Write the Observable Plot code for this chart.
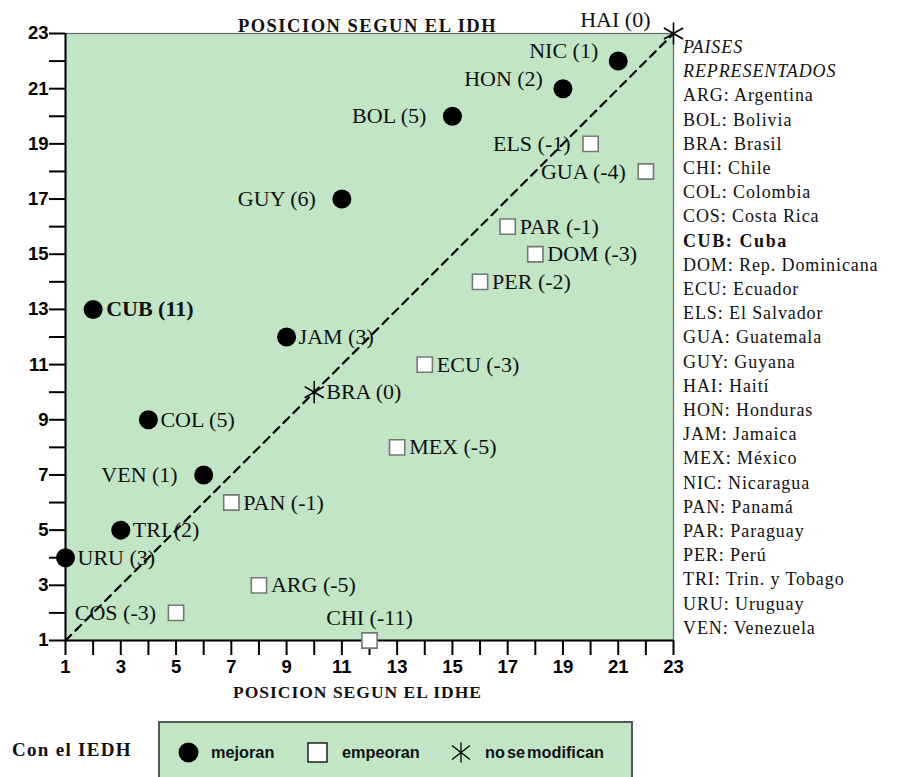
<!DOCTYPE html>
<html>
<head>
<meta charset="utf-8">
<script src="https://cdn.jsdelivr.net/npm/d3@7"></script>
<script src="https://cdn.jsdelivr.net/npm/@observablehq/plot@0.6"></script>
<style>
  html, body { margin: 0; padding: 0; background: #fff; }
  #wrap { position: relative; width: 902px; height: 777px; overflow: hidden; }
  #chart { position: absolute; left: 0; top: 0; }
  #list { position: absolute; left: 683px; top: 35px; font-family: "Liberation Serif", serif; font-size: 18px; line-height: 24.2px; letter-spacing: 0.9px; color: #111; white-space: nowrap; }
  #list .it { font-style: italic; }
  #list .b { font-weight: bold; letter-spacing: 1.6px; }
  #conel { position: absolute; left: 12px; top: 739px; font-family: "Liberation Serif", serif; font-weight: bold; font-size: 19px; letter-spacing: 1.3px; color: #111; }
  #legend { position: absolute; left: 158px; top: 721px; width: 475px; height: 80px; background: #c1e5c5; border: 2px solid #555; box-sizing: border-box; }
  #legend .item { position: absolute; top: 19px; display: flex; align-items: center; font-family: "Liberation Sans", Arial, sans-serif; font-weight: bold; font-size: 16.3px; letter-spacing: 0px; color: #111; }
  #legend svg { display: block; }
</style>
</head>
<body>
<div id="wrap">
  <div id="chart"></div>
  <div id="list"></div>
  <div id="conel">Con el IEDH</div>
  <div id="legend"></div>
</div>
<script>
// ---- data ----
const codes   = ["HAI","NIC","HON","BOL","ELS","GUA","GUY","PAR","DOM","PER","CUB","JAM","ECU","BRA","COL","MEX","VEN","PAN","TRI","URU","ARG","COS","CHI"];
const posIDHE = [23,21,19,15,20,22,11,17,18,16,2,9,14,10,4,13,6,7,3,1,8,5,12];
const posIDH  = [23,22,21,20,19,18,17,16,15,14,13,12,11,10,9,8,7,6,5,4,3,2,1];
const majorTicks = [1,3,5,7,9,11,13,15,17,19,21,23];
const minorTicks = [2,4,6,8,10,12,14,16,18,20,22];
const countryCodes = ["ARG","BOL","BRA","CHI","COL","COS","CUB","DOM","ECU","ELS","GUA","GUY","HAI","HON","JAM","MEX","NIC","PAN","PAR","PER","TRI","URU","VEN"];
const countryNames = ["Argentina","Bolivia","Brasil","Chile","Colombia","Costa Rica","Cuba","Rep. Dominicana","Ecuador","El Salvador","Guatemala","Guyana","Haití","Honduras","Jamaica","México","Nicaragua","Panamá","Paraguay","Perú","Trin. y Tobago","Uruguay","Venezuela"];
const legendLabels = ["mejoran","empeoran","no se modifican"];
const titleTop = "POSICION SEGUN EL IDH";
const titleBottom = "POSICION SEGUN EL IDHE";
const highlight = "CUB";

// ---- layout config (label placement) ----
const labelSide = {HAI:"tl", NIC:"lu", HON:"lu", BOL:"l", ELS:"l", GUA:"l", GUY:"l", VEN:"l", COS:"l", CHI:"t"};

const GREEN = "#c1e5c5";
const rows = codes.map((c, i) => {
  const d = posIDH[i] - posIDHE[i];
  return {code: c, x: posIDHE[i], y: posIDH[i], diff: d,
          group: d > 0 ? "mejoran" : d < 0 ? "empeoran" : "igual",
          side: labelSide[c] || "r",
          label: `${c} (${d})`};
});
const lo = d3.min(majorTicks), hi = d3.max(majorTicks);
const diag = [{x: lo, y: lo}, {x: hi, y: hi}];

const serif = "Liberation Serif";
const LFS = 22;
const txt = (filter, opts) => Plot.text(rows.filter(filter), {x: "x", y: "y", text: "label", fontFamily: serif, fontSize: LFS, fill: "#111", ...opts});

const chart = Plot.plot({
  width: 902, height: 712,
  marginLeft: 65, marginRight: 229, marginTop: 33, marginBottom: 72,
  style: {fontFamily: serif, background: "transparent", overflow: "visible"},
  x: {domain: [lo, hi]},
  y: {domain: [lo, hi]},
  marks: [
    Plot.frame({fill: GREEN, stroke: "#666", strokeWidth: 1.2}),
    Plot.axisX({ticks: majorTicks, tickSize: 15, tickPadding: 4, label: null, fontFamily: "Liberation Sans", fontWeight: "bold", fontSize: 18.5, stroke: "#000", strokeWidth: 2, fill: "#000"}),
    Plot.axisX({ticks: minorTicks, tickSize: 15, tickFormat: () => "", label: null, stroke: "#000", strokeWidth: 2}),
    Plot.axisY({ticks: majorTicks, tickSize: 16, tickPadding: 1, label: null, fontFamily: "Liberation Sans", fontWeight: "bold", fontSize: 18.5, stroke: "#000", strokeWidth: 2, fill: "#000"}),
    Plot.axisY({ticks: minorTicks, tickSize: 16, tickFormat: () => "", label: null, stroke: "#000", strokeWidth: 2}),
    Plot.ruleX([lo], {stroke: "#000", strokeWidth: 2}),
    Plot.ruleY([lo], {stroke: "#000", strokeWidth: 2}),
    Plot.line(diag, {x: "x", y: "y", stroke: "#000", strokeWidth: 2.2, strokeDasharray: "8,6"}),
    Plot.dot(rows.filter(d => d.group === "mejoran"), {x: "x", y: "y", r: 9.5, fill: "#000", stroke: "none"}),
    Plot.dot(rows.filter(d => d.group === "empeoran"), {x: "x", y: "y", symbol: "square", r: 8.6, fill: "#fff", stroke: "#777", strokeWidth: 1.6}),
    Plot.dot(rows.filter(d => d.group === "igual"), {x: "x", y: "y", symbol: "asterisk", r: 10.5, stroke: "#000", strokeWidth: 1.6}),
    txt(d => d.side === "r" && d.code !== highlight, {textAnchor: "start", dx: 12}),
    txt(d => d.code === highlight, {textAnchor: "start", dx: 13, fontWeight: "bold"}),
    txt(d => d.side === "l" && d.group === "mejoran", {textAnchor: "end", dx: -26}),
    txt(d => d.side === "l" && d.group !== "mejoran", {textAnchor: "end", dx: -20}),
    txt(d => d.side === "lu", {textAnchor: "end", dx: -20, dy: -10}),
    txt(d => d.side === "tl", {textAnchor: "end", dx: -23, dy: -14}),
    txt(d => d.side === "t", {textAnchor: "middle", dy: -23}),
    Plot.text([titleTop], {frameAnchor: "top", dx: -2, dy: -15, fontFamily: serif, fontWeight: "bold", fontSize: 18.5, fill: "#111"}),
    Plot.text([titleBottom], {frameAnchor: "bottom", dx: -12, dy: 57, fontFamily: serif, fontWeight: "bold", fontSize: 17.5, fill: "#111"})
  ]
});
chart.querySelectorAll("text").forEach(t => {
  if (t.textContent === titleTop) t.setAttribute("letter-spacing", "1.5");
  if (t.textContent === titleBottom) t.setAttribute("letter-spacing", "1");
});
document.getElementById("chart").appendChild(chart);

// ---- country list ----
const list = document.getElementById("list");
list.innerHTML = `<div class="it">PAISES</div><div class="it">REPRESENTADOS</div>` +
  countryCodes.map((c, i) => `<div class="${c === highlight ? "b" : ""}">${c}: ${countryNames[i]}</div>`).join("");

// ---- legend ----
const leg = document.getElementById("legend");
const icons = [
  `<svg width="21" height="21"><circle cx="10.5" cy="10.5" r="10" fill="#000"/></svg>`,
  `<svg width="21" height="21"><rect x="1" y="1" width="19" height="19" fill="#fff" stroke="#000" stroke-width="1.3"/></svg>`,
  `<svg width="20" height="21"><path d="M10,0.5V20.5M1,3.5L19,17.5M1,17.5L19,3.5" stroke="#000" stroke-width="1.3" fill="none"/></svg>`
];
const itemLeft = [18, 147, 291];
const gaps = [12, 14, 14];
legendLabels.forEach((l, i) => {
  const el = document.createElement("div");
  el.className = "item";
  el.style.left = itemLeft[i] + "px";
  el.innerHTML = icons[i] + `<span style="margin-left:${gaps[i]}px;${i === 2 ? "word-spacing:-2.5px" : ""}">${l}</span>`;
  leg.appendChild(el);
});
</script>
</body>
</html>
